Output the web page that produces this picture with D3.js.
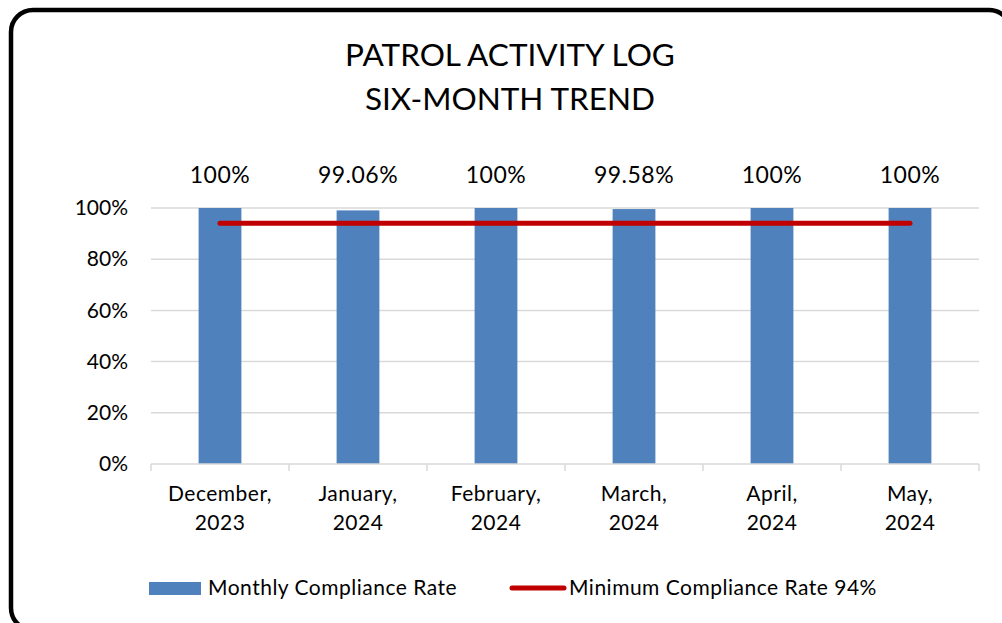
<!DOCTYPE html>
<html>
<head>
<meta charset="utf-8">
<script src="https://cdn.jsdelivr.net/npm/d3@7"></script>
<style>
  body { margin: 0; background: #fff; }
  svg { display: block; font-family: Lato, "Noto Sans", sans-serif; }
</style>
</head>
<body>
<svg id="chart"></svg>
<script>
const months = ["December, 2023", "January, 2024", "February, 2024", "March, 2024", "April, 2024", "May, 2024"];
const rates = [100, 99.06, 100, 99.58, 100, 100];
const rateLabels = ["100%", "99.06%", "100%", "99.58%", "100%", "100%"];
const minimum = [94, 94, 94, 94, 94, 94];
const yTicks = [0, 20, 40, 60, 80, 100];

const width = 1002, height = 623;
const margin = { top: 208, right: 23, bottom: 159, left: 151 };

const svg = d3.select("#chart").attr("width", width).attr("height", height);

// frame
svg.append("rect")
  .attr("x", 11).attr("y", 10)
  .attr("width", 1000).attr("height", 620)
  .attr("rx", 22).attr("ry", 22)
  .attr("fill", "#fff")
  .attr("stroke", "#000")
  .attr("stroke-width", 4.5);

// title
svg.append("text")
  .attr("x", 510).attr("y", 66)
  .attr("text-anchor", "middle")
  .style("font-size", "31.5px")
  .text("PATROL ACTIVITY LOG");
svg.append("text")
  .attr("x", 510).attr("y", 110)
  .attr("text-anchor", "middle")
  .style("font-size", "31.5px")
  .text("SIX-MONTH TREND");

const xScale = d3.scaleBand()
  .domain(months)
  .range([margin.left, width - margin.right])
  .paddingInner(0.69).paddingOuter(0.345);

const yScale = d3.scaleLinear()
  .domain([0, 100])
  .range([height - margin.bottom, margin.top]);

// gridlines
svg.append("g")
  .selectAll("line")
  .data(yTicks.filter((d) => d > 0))
  .join("line")
  .attr("x1", margin.left).attr("x2", width - margin.right)
  .attr("y1", (d) => yScale(d)).attr("y2", (d) => yScale(d))
  .attr("stroke", "#d9d9d9")
  .attr("stroke-width", 1.5);

// y labels
const yAxis = d3.axisLeft(yScale).tickValues(yTicks).tickSize(0).tickPadding(23).tickFormat((d) => d + "%");
svg.append("g")
  .attr("transform", "translate(" + margin.left + ",0)")
  .call(yAxis)
  .call((g) => g.select(".domain").remove())
  .selectAll("text")
  .style("font-size", "21px")
  .style("font-family", "Lato, 'Noto Sans', sans-serif")
  .attr("fill", "#000");

// bars
svg.append("g")
  .selectAll("rect")
  .data(rates)
  .join("rect")
  .attr("x", (d, i) => xScale(months[i]))
  .attr("width", xScale.bandwidth())
  .attr("y", (d) => yScale(d))
  .attr("height", (d) => yScale(0) - yScale(d))
  .attr("fill", "#4f81bd");

// x axis line + ticks between categories
const step = xScale.step();
const boundaries = d3.range(months.length + 1).map((i) => margin.left + i * step);
svg.append("line")
  .attr("x1", margin.left).attr("x2", width - margin.right)
  .attr("y1", yScale(0)).attr("y2", yScale(0))
  .attr("stroke", "#d9d9d9").attr("stroke-width", 1.5);
svg.append("g")
  .selectAll("line")
  .data(boundaries)
  .join("line")
  .attr("x1", (d) => d).attr("x2", (d) => d)
  .attr("y1", yScale(0)).attr("y2", yScale(0) + 7)
  .attr("stroke", "#d9d9d9").attr("stroke-width", 1.5);

// x labels (two lines)
const xl = svg.append("g")
  .selectAll("text")
  .data(months)
  .join("text")
  .attr("text-anchor", "middle")
  .style("font-size", "21px")
  .style("letter-spacing", "0.5px");
xl.each(function (d) {
  const parts = d.split(" ");
  const cx = xScale(d) + xScale.bandwidth() / 2;
  d3.select(this).append("tspan").attr("x", cx).attr("y", 501).text(parts[0]);
  d3.select(this).append("tspan").attr("x", cx).attr("y", 530).text(parts[1]);
});

// data labels
svg.append("g")
  .selectAll("text")
  .data(rates)
  .join("text")
  .attr("x", (d, i) => xScale(months[i]) + xScale.bandwidth() / 2)
  .attr("y", 183)
  .attr("text-anchor", "middle")
  .style("font-size", "23px")
  .style("letter-spacing", "0.5px")
  .text((d, i) => rateLabels[i]);

// minimum line
const line = d3.line()
  .x((d, i) => xScale(months[i]) + xScale.bandwidth() / 2)
  .y((d) => yScale(d));
svg.append("path")
  .datum(minimum)
  .attr("d", line)
  .attr("fill", "none")
  .attr("stroke", "#c00000")
  .attr("stroke-width", 5)
  .attr("stroke-linecap", "round");

// legend
svg.append("rect")
  .attr("x", 149).attr("y", 582)
  .attr("width", 52).attr("height", 13)
  .attr("fill", "#4f81bd");
svg.append("text")
  .attr("x", 208).attr("y", 595)
  .style("font-size", "21px")
  .style("letter-spacing", "0.5px")
  .text("Monthly Compliance Rate");
svg.append("line")
  .attr("x1", 512).attr("x2", 564)
  .attr("y1", 588).attr("y2", 588)
  .attr("stroke", "#c00000")
  .attr("stroke-width", 5)
  .attr("stroke-linecap", "round");
svg.append("text")
  .attr("x", 569).attr("y", 595)
  .style("font-size", "21px")
  .style("letter-spacing", "0.5px")
  .text("Minimum Compliance Rate 94%");
</script>
</body>
</html>
